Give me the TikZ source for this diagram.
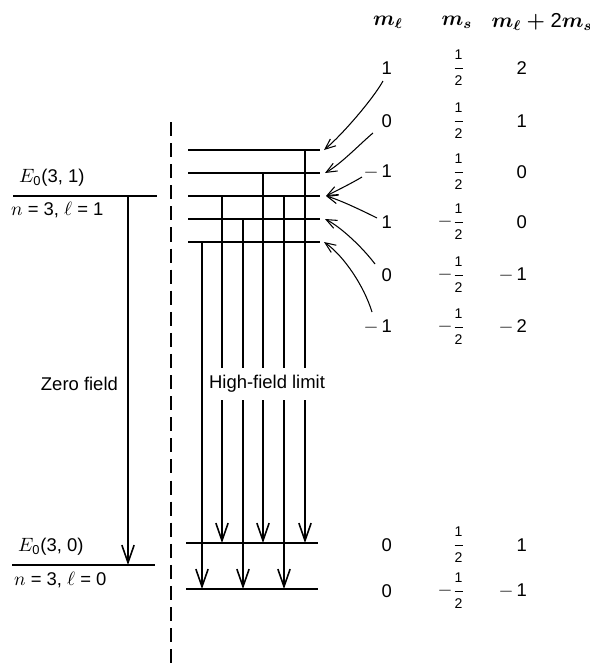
\documentclass[tikz,border=0pt]{standalone}
\usepackage{fontspec}
\setsansfont{Liberation Sans}
\usepackage{amsmath}
\usetikzlibrary{arrows.meta, positioning}
\tikzset{
  level/.style={line width=1.5pt, line cap=butt},
  transArrow/.style={line width=0.9pt, -{Straight Barb[length=10pt, width=7pt]}},
  pointer/.style={line width=0.6pt, -{Straight Barb[length=6pt, width=5pt]}},
  divider/.style={line width=1.1pt, dash pattern=on 8pt off 4pt},
  lbl/.style={inner sep=1pt},
  head/.style={inner sep=1pt, font=\sffamily\fontsize{11.5}{13}\selectfont\boldmath},
}
\newcommand{\halfp}{$\genfrac{}{}{0.4pt}{0}{\text{\footnotesize 1}}{\text{\footnotesize 2}}$}
\newcommand{\halfm}{$-\genfrac{}{}{0.4pt}{0}{\text{\footnotesize 1}}{\text{\footnotesize 2}}$}

\begin{document}
\begin{tikzpicture}[x=0.2mm, y=-0.2mm, font=\sffamily\fontsize{10.5}{12}\selectfont]
    \useasboundingbox (0,0) rectangle (589,670);
    % zero field: the two levels
    \coordinate (p1w) at (13,196);  \coordinate (p1e) at (157,196);
    \coordinate (s0w) at (12,565);  \coordinate (s0e) at (155,565);
    \draw[level] (p1w) -- (p1e);
    \draw[level] (s0w) -- (s0e);
    \node[lbl, anchor=west] (p1name) at (17,178) {$E_{\text{0}}$(3, 1)};
    \node[lbl, anchor=west] (p1qn) at (9,210) {$n$ = 3, $\ell$ = 1};
    \node[lbl, anchor=west] (s0name) at (16,547) {$E_{\text{0}}$(3, 0)};
    \node[lbl, anchor=west] (s0qn) at (12,580) {$n$ = 3, $\ell$ = 0};
    % zero field transition
    \coordinate (zf) at (128,0);
    \draw[transArrow] (zf |- p1w) -- (zf |- s0w);
    \node[lbl, anchor=east] (zflabel) at (120,384) {Zero field};
    % dashed separator
    \coordinate (dtop) at (171,122);
    \coordinate (dbot) at (171,670);
    \draw[divider] (dtop) -- (dbot);
    % high field: split levels
    \foreach \i/\y in {1/150,2/173,3/196,4/219,5/242} {
      \coordinate (uw\i) at (188,\y); \coordinate (ue\i) at (320,\y);
      \draw[level] (uw\i) -- (ue\i);
    }
    \foreach \i/\y in {1/543,2/589} {
      \coordinate (lw\i) at (186,\y); \coordinate (le\i) at (318,\y);
      \draw[level] (lw\i) -- (le\i);
    }
    % transitions, upper level -> lower level
    \foreach \k/\x/\a/\b in {1/305/1/1,2/263/2/1,3/222/3/1,4/284/3/2,5/243/4/2,6/202/5/2} {
      \coordinate (t\k) at (\x,0);
      \draw[transArrow] (t\k |- uw\a) -- (t\k |- lw\b);
    }
    \node[lbl, anchor=west, fill=white, inner xsep=1pt, inner ysep=4pt]
      (hflabel) at (207,384) {High-field limit};
    % quantum numbers
    \node[head] (hml) at (388,22) {$m_\ell$};
    \node[head] (hms) at (457,22) {$m_s$};
    \node[head] (hsum) at (542,22) {$m_\ell + \text{2}m_s$};
    \foreach \i/\y/\ml/\ms/\sm in {1/68/1/\halfp/2, 2/121/0/\halfp/1,
        3/172/$-$\,1/\halfp/0, 4/222/1/\halfm/0, 5/275/0/\halfm/$-$\,1,
        6/327/$-$\,1/\halfm/$-$\,2, 7/545/0/\halfp/1, 8/591/0/\halfm/$-$\,1} {
      \node[lbl, anchor=east] (ml\i) at (394,\y) {\ml};
      \node[lbl, anchor=east, inner sep=0pt] (ms\i) at (465,\y) {\ms};
      \node[lbl, anchor=east] (sm\i) at (529,\y) {\sm};
    }
    % pointers from the labels to the levels
    \coordinate (a1) at (383,81);
    \coordinate (a2) at (373,133);
    \coordinate (a3) at (362,177);
    \coordinate (a4) at (377,218);
    \coordinate (a5) at (375,264);
    \coordinate (a6) at (372,312);
    \draw[pointer] (a1) .. controls +(-10,18) and +(18,-15) .. ([xshift=0.8mm]ue1);
    \draw[pointer] (a2) .. controls +(-12,10) and +(16,-9) .. ([xshift=1mm]ue2);
    \draw[pointer] (a3) .. controls +(-10,6) and +(12,-6) .. ([xshift=1.2mm]ue3);
    \draw[pointer] (a4) .. controls +(-16,-8) and +(14,4) .. ([xshift=1.2mm]ue3);
    \draw[pointer] (a5) .. controls +(-12,-16) and +(16,8) .. ([xshift=1mm]ue4);
    \draw[pointer] (a6) .. controls +(-8,-26) and +(20,14) .. ([xshift=0.8mm]ue5);
\end{tikzpicture}
\end{document}
